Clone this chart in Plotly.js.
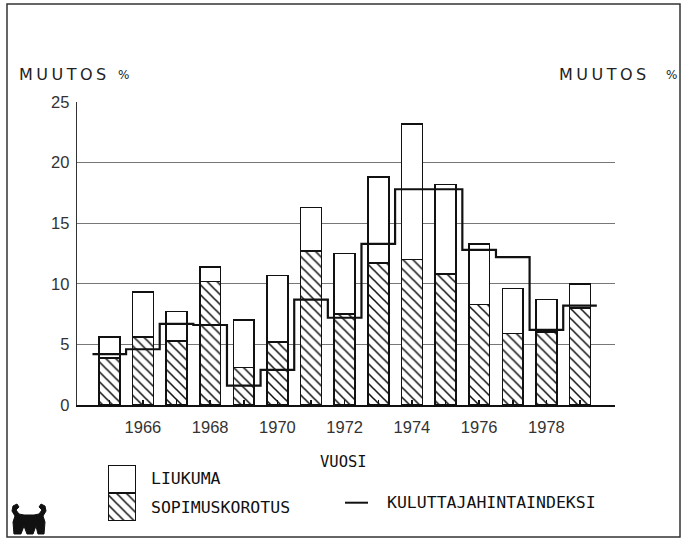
<!DOCTYPE html>
<html><head><meta charset="utf-8">
<script src="https://cdn.plot.ly/plotly-3.0.1.min.js"></script>
<style>html,body{margin:0;padding:0;background:#fff}</style>
</head><body><div id="chart" style="width:688px;height:539px"></div>
<script>
// ---- data ----
const years = [1965,1966,1967,1968,1969,1970,1971,1972,1973,1974,1975,1976,1977,1978,1979];
const sopimuskorotus = [3.9,5.6,5.3,10.2,3.1,5.2,12.7,7.5,11.7,12.0,10.8,8.3,5.9,6.0,8.0];
const liukuma = [1.7,3.7,2.4,1.2,3.9,5.5,3.6,5.0,7.1,11.2,7.4,5.0,3.7,2.7,2.0];
const kuluttajahintaindeksi = [4.2,4.6,6.7,6.6,1.6,2.9,8.7,7.2,13.3,17.8,17.8,12.8,12.2,6.2,8.2];
const labelYears = [1966,1968,1970,1972,1974,1976,1978];
const yTicks = [0,5,10,15,20,25];
const legendNames = ['LIUKUMA','SOPIMUSKOROTUS','KULUTTAJAHINTAINDEKSI'];
const axisTitle = 'VUOSI';
const yTitle = 'MUUTOS';

// ---- helpers (layout only) ----
const W = 688, H = 539;
const px = x => x / W;
const py = y => (H - y) / H;
const NUM = '"Liberation Sans", Arial, sans-serif';
const MONO = '"DejaVu Sans Mono", "Liberation Mono", monospace';
const SANS = '"DejaVu Sans", Verdana, sans-serif';

const last = years.length - 1;
const stepX = years.map(y => y - 0.5).concat([years[last] + 0.5]);
const stepY = kuluttajahintaindeksi.concat([kuluttajahintaindeksi[last]]);
const tickText = years.map(y => labelYears.includes(y) ? String(y) : '');

const hatch = {shape: '\\', fgcolor: '#111', bgcolor: '#fff', size: 7, solidity: 0.22};

const traces = [
  {type: 'bar', x: years, y: sopimuskorotus, name: legendNames[1], width: 0.62,
   marker: {color: '#fff', pattern: hatch, line: {color: '#111', width: 1.6}},
   xaxis: 'x', yaxis: 'y', hoverinfo: 'skip'},
  {type: 'bar', x: years, y: liukuma, name: legendNames[0], width: 0.62,
   marker: {color: '#fff', line: {color: '#111', width: 1.6}},
   xaxis: 'x', yaxis: 'y', hoverinfo: 'skip'},
  {type: 'scatter', mode: 'lines', x: stepX, y: stepY, name: legendNames[2],
   line: {shape: 'hv', color: '#111', width: 2.2}, xaxis: 'x', yaxis: 'y', hoverinfo: 'skip'},
  // legend swatches
  {type: 'bar', x: [0], y: [1], width: 1, cliponaxis: false,
   marker: {color: '#fff', pattern: hatch, line: {color: '#111', width: 1.6}},
   xaxis: 'x3', yaxis: 'y3', hoverinfo: 'skip'},
  {type: 'bar', x: [0], y: [1], width: 1, cliponaxis: false,
   marker: {color: '#fff', line: {color: '#111', width: 1.6}},
   xaxis: 'x3', yaxis: 'y3', hoverinfo: 'skip'}
];

const ann = (text, x, y, opts) => Object.assign({
  text, x: px(x), y: py(y), xref: 'paper', yref: 'paper', showarrow: false,
  xanchor: 'left', yanchor: 'middle', font: {family: MONO, size: 16.5, color: '#111'}
}, opts || {});

const logo = [[14,534],[13,522],[15,516],[12,511],[13,506],[17,504],[19,507],[16,510],[19,514],[24,515],[34,515],[39,514],[42,510],[39,507],[41,504],[45,506],[46,511],[43,516],[45,522],[44,534],[38,534],[36,526],[33,534],[27,534],[24,526],[21,534]];
const logoPath = 'M ' + logo.map(p => px(p[0]).toFixed(4) + ' ' + py(p[1]).toFixed(4)).join(' L ') + ' Z';

const layout = {
  width: W, height: H,
  margin: {l: 0, r: 0, t: 0, b: 0},
  paper_bgcolor: '#fff', plot_bgcolor: '#fff',
  showlegend: false, barmode: 'stack', bargap: 0,
  xaxis: {domain: [px(77), px(615)], range: [1964.04, 1980.04], anchor: 'y',
    tickvals: years, ticktext: tickText, ticks: 'inside', ticklen: 5, tickwidth: 1.5, tickcolor: '#111',
    showline: true, linecolor: '#111', linewidth: 1.8, showgrid: false, zeroline: false,
    tickfont: {family: NUM, size: 16.5, color: '#333'}, ticklabelstandoff: 6},
  yaxis: {domain: [py(405), py(102)], range: [0, 25], anchor: 'x',
    tickvals: yTicks, ticks: '', showline: true, linecolor: '#333', linewidth: 1.3,
    showgrid: true, gridcolor: '#777', gridwidth: 1, zeroline: false,
    tickfont: {family: NUM, size: 16.5, color: '#333'}, ticklabelstandoff: 3},
  yaxis2: {domain: [py(405), py(102)], range: [0, 25], overlaying: 'y', side: 'right', anchor: 'x',
    tickvals: yTicks, ticks: '', showline: true, linecolor: '#333', linewidth: 1.3,
    showgrid: false, zeroline: false,
    tickfont: {family: NUM, size: 16.5, color: '#333'}, ticklabelstandoff: 3},
  xaxis3: {domain: [px(108), px(136)], range: [-0.5, 0.5], anchor: 'y3', visible: false, fixedrange: true},
  yaxis3: {domain: [py(521), py(465)], range: [0, 2], anchor: 'x3', visible: false, fixedrange: true},
  shapes: [
    {type: 'rect', xref: 'paper', yref: 'paper', x0: px(7), x1: px(680), y0: py(537), y1: py(4),
     line: {color: '#333', width: 1.5}, fillcolor: 'rgba(0,0,0,0)'},
    {type: 'line', xref: 'paper', yref: 'paper', x0: px(345), x1: px(368), y0: py(502.7), y1: py(502.7),
     line: {color: '#111', width: 2}},
    {type: 'path', xref: 'paper', yref: 'paper', path: logoPath, fillcolor: '#111', line: {color: '#111', width: 1}}
  ],
  annotations: [
    ann('<span style="letter-spacing:3.5px">' + yTitle + '</span>', 17, 75, {font: {family: SANS, size: 16, color: '#222'}}),
    ann('%', 116, 75, {font: {family: SANS, size: 12, color: '#222'}}),
    ann('<span style="letter-spacing:3.5px">' + yTitle + '</span>', 557, 75, {font: {family: SANS, size: 16, color: '#222'}}),
    ann('%', 664, 75, {font: {family: SANS, size: 12, color: '#222'}}),
    ann(axisTitle, 343.5, 461.5, {xanchor: 'center', font: {family: MONO, size: 15.5, color: '#111'}}),
    ann(legendNames[0], 149, 478),
    ann(legendNames[1], 149, 507),
    ann(legendNames[2], 385, 502.5)
  ]
};

Plotly.newPlot('chart', traces, layout, {staticPlot: true, displayModeBar: false});
</script></body></html>
